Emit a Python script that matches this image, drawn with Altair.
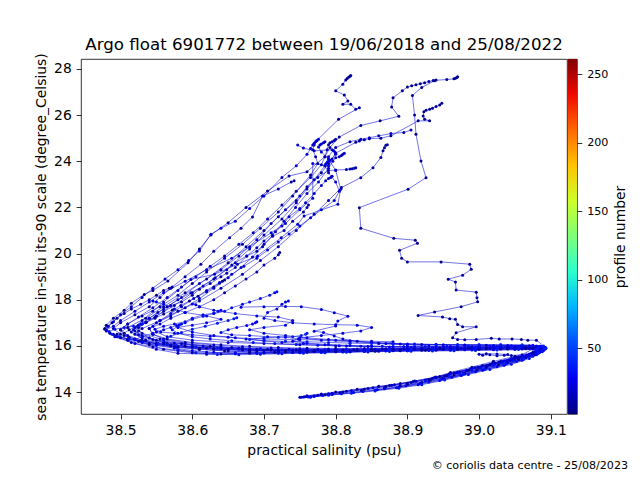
import altair as alt
import pandas as pd

# ---------------- data (salinity psu, temperature degC) per profile ----------------
P01 = [(38.970,27.66),(38.969,27.63),(38.967,27.60),(38.965,27.57),(38.955,27.54),(38.936,27.50),(38.930,27.45),(38.924,27.40),(38.918,27.36),(38.912,27.31),(38.906,27.27),(38.900,27.22),(38.893,27.05),(38.880,26.75),(38.878,26.35),(38.888,25.95),(38.862,25.75),(38.835,25.55),(38.805,25.05),(38.792,24.60),(38.785,24.20),(38.760,23.55),(38.735,23.36),(38.705,22.71),(38.675,22.00),(38.650,21.34),(38.626,20.81),(38.610,20.20),(38.594,19.60),(38.566,18.81),(38.545,18.40),(38.533,18.23),(38.515,17.85),(38.505,17.54),(38.490,17.20),(38.480,16.90),(38.478,16.75),(38.485,16.55),(38.500,16.35),(38.530,16.20),(38.570,16.00),(38.610,15.90),(38.650,15.84),(38.690,15.80),(38.730,15.80),(38.770,15.81),(38.810,15.82),(38.850,15.84),(38.890,15.86),(38.930,15.88),(38.970,15.90),(39.010,15.92),(39.050,15.93),(39.085,15.92),(39.090,15.85),(39.070,15.60),(39.045,15.40),(39.015,15.18),(38.985,14.95),(38.955,14.72),(38.930,14.55),(38.900,14.38),(38.870,14.24),(38.840,14.12),(38.810,14.00),(38.785,13.88),(38.765,13.80),(38.755,13.79)]
P02 = [(38.940,27.52),(38.938,27.49),(38.920,27.20),(38.907,26.85),(38.910,26.00),(38.912,25.17),(38.919,24.01),(38.926,23.29),(38.901,22.79),(38.833,21.99),(38.835,21.10),(38.881,20.66),(38.911,20.58),(38.914,20.45),(38.889,20.14),(38.892,19.80),(38.900,19.64),(38.947,19.64),(38.987,19.54),(38.989,19.32),(38.977,19.06),(38.957,18.89),(38.967,18.77),(38.968,18.42),(38.996,18.33),(38.997,18.09),(38.998,17.91),(38.975,17.70),(38.938,17.47),(38.915,17.32),(38.949,17.25),(38.959,17.18),(38.967,17.15),(38.970,16.93),(38.977,16.83),(38.996,16.83),(38.968,16.57),(38.963,16.35),(38.970,16.28),(38.980,16.27),(38.996,16.28),(39.017,16.33),(39.028,16.30),(39.046,16.30),(39.059,16.28),(39.068,16.25),(39.080,16.25),(39.093,15.92),(39.075,15.72),(39.050,15.55),(39.020,15.33),(38.990,15.08),(38.960,14.85),(38.940,14.65),(38.910,14.48),(38.890,14.37),(38.860,14.25),(38.830,14.12),(38.800,14.00),(38.780,13.92),(38.760,13.84)]
P03 = [(38.948,26.51),(38.945,26.44),(38.940,26.37),(38.935,26.30),(38.931,26.25),(38.926,26.21),(38.923,26.15),(38.922,25.96),(38.924,25.82),(38.931,25.75),(38.915,25.75),(38.877,25.10),(38.863,25.00),(38.847,24.98),(38.840,24.93),(38.833,24.88),(38.828,24.82),(38.800,24.35),(38.790,23.90),(38.780,23.50),(38.760,22.90),(38.745,22.30),(38.720,21.60),(38.700,21.00),(38.675,20.30),(38.650,19.60),(38.620,18.90),(38.590,18.30),(38.560,17.70),(38.535,17.20),(38.510,16.80),(38.495,16.50),(38.510,16.25),(38.540,16.05),(38.580,15.95),(38.630,15.86),(38.680,15.80),(38.730,15.76),(38.780,15.78),(38.830,15.80),(38.880,15.83),(38.930,15.86),(38.980,15.88),(39.030,15.90),(39.070,15.90),(39.088,15.82),(39.070,15.62),(39.050,15.48),(39.020,15.27),(38.990,15.03)]
P04 = [(38.821,27.72),(38.820,27.68),(38.818,27.64),(38.816,27.58),(38.814,27.52),(38.810,27.34),(38.800,27.05),(38.812,26.87),(38.817,26.61),(38.810,26.47),(38.821,26.47),(38.828,26.25),(38.833,26.32),(38.804,25.82),(38.773,24.88),(38.770,24.70),(38.768,24.50),(38.772,24.20),(38.775,23.90),(38.765,23.40),(38.740,22.50),(38.720,21.80),(38.695,21.10),(38.670,20.40),(38.645,19.80),(38.620,19.20),(38.600,18.70),(38.580,18.20),(38.555,17.70),(38.530,17.30),(38.510,16.95),(38.500,16.70),(38.505,16.45),(38.525,16.20),(38.560,15.85),(38.600,15.70),(38.640,15.65),(38.680,15.68),(38.720,15.71),(38.760,15.73),(38.800,15.75),(38.840,15.77),(38.880,15.79),(38.920,15.81),(38.960,15.83),(39.000,15.85),(39.040,15.87),(39.080,15.88),(39.085,15.75),(39.065,15.50),(39.040,15.28),(39.010,15.05),(38.980,14.80),(38.950,14.60),(38.920,14.42),(38.890,14.26)]
P05 = [(38.872,24.72),(38.870,24.69),(38.868,24.59),(38.866,24.45),(38.863,24.16),(38.852,23.72),(38.835,23.29),(38.808,22.86),(38.790,22.30),(38.770,21.70),(38.745,21.00),(38.720,20.30),(38.695,19.70),(38.670,19.10),(38.640,18.50),(38.610,17.95),(38.580,17.50),(38.555,17.10),(38.530,16.75),(38.520,16.50),(38.535,16.25),(38.570,16.05),(38.620,15.90),(38.670,15.82),(38.720,15.78),(38.770,15.77),(38.820,15.79),(38.870,15.82),(38.920,15.85),(38.970,15.87),(39.020,15.88),(39.060,15.90),(39.090,15.86),(39.075,15.65),(39.055,15.50),(39.030,15.32),(39.005,15.15)]
P06 = [(38.828,23.72),(38.826,23.70),(38.823,23.68),(38.820,23.66),(38.815,23.64),(38.800,23.62),(38.790,23.60),(38.775,23.30),(38.760,22.80),(38.745,22.20),(38.725,21.50),(38.700,20.80),(38.680,20.20),(38.655,19.50),(38.630,18.90),(38.600,18.30),(38.575,17.75),(38.550,17.30),(38.530,16.95),(38.525,16.65),(38.540,16.35),(38.565,16.10),(38.600,15.95),(38.650,15.86),(38.700,15.80),(38.750,15.78),(38.800,15.80),(38.850,15.82),(38.900,15.84),(38.950,15.86),(39.000,15.88),(39.040,15.89),(39.075,15.87),(39.060,15.62),(39.045,15.58),(39.035,15.60),(39.025,15.57),(39.015,15.62),(39.005,15.60),(39.000,15.64),(39.010,15.66),(39.025,15.65),(39.040,15.63)]
P07 = [(38.905,25.35),(38.895,25.25),(38.877,25.20),(38.860,25.10),(38.847,25.02),(38.835,24.95),(38.820,24.85),(38.800,24.60),(38.790,24.20),(38.785,23.80),(38.770,23.20),(38.750,22.50),(38.730,21.90),(38.710,21.30),(38.690,20.60),(38.665,19.90),(38.640,19.30),(38.610,18.70),(38.585,18.10),(38.560,17.60),(38.540,17.20),(38.525,16.90),(38.515,16.60),(38.530,16.35),(38.560,16.15),(38.600,16.02),(38.640,15.92),(38.680,15.86),(38.720,15.83),(38.760,15.82),(38.800,15.83),(38.840,15.85),(38.880,15.87),(38.920,15.89),(38.960,15.90),(39.000,15.91),(39.040,15.92),(39.075,15.93),(39.090,15.88),(39.072,15.66),(39.048,15.47),(39.018,15.24),(38.988,15.00),(38.958,14.78),(38.935,14.60),(38.905,14.42),(38.875,14.28),(38.845,14.16),(38.815,14.04),(38.790,13.93),(38.770,13.84),(38.757,13.80)]
P08 = [(38.785,24.85),(38.783,24.80),(38.780,24.75),(38.778,24.70),(38.776,24.62),(38.780,24.40),(38.790,24.10),(38.800,23.60),(38.807,22.79),(38.803,22.14),(38.756,21.63),(38.747,21.27),(38.724,20.69),(38.691,19.90),(38.663,19.54),(38.631,19.10),(38.598,18.88),(38.580,18.40),(38.560,17.90),(38.545,17.50),(38.530,17.10),(38.520,16.80),(38.530,16.55),(38.555,16.30),(38.590,16.10),(38.640,15.95),(38.690,15.86),(38.740,15.82),(38.790,15.82),(38.840,15.84),(38.890,15.86),(38.940,15.88),(38.990,15.90),(39.040,15.92),(39.080,15.92),(39.090,15.80),(39.068,15.58),(39.043,15.38),(39.012,15.16),(38.982,14.92),(38.952,14.70),(38.925,14.52)]
P09 = [(38.747,24.70),(38.755,24.57),(38.770,24.45),(38.795,24.50),(38.797,24.45),(38.799,24.40),(38.800,24.30),(38.795,24.10),(38.790,23.80),(38.768,23.90),(38.768,22.40),(38.750,21.90),(38.730,21.30),(38.710,20.90),(38.680,20.30),(38.655,19.80),(38.620,19.30),(38.590,18.80),(38.560,18.30),(38.540,17.90),(38.520,17.50),(38.500,17.10),(38.490,16.85),(38.480,16.70),(38.495,16.40),(38.520,16.10),(38.550,15.85),(38.580,15.68),(38.620,15.64),(38.660,15.66),(38.700,15.69),(38.740,15.71),(38.780,15.73),(38.820,15.75),(38.860,15.77),(38.900,15.79),(38.940,15.81),(38.980,15.83),(39.020,15.85),(39.060,15.87),(39.088,15.86),(39.078,15.70),(39.055,15.52),(39.028,15.30),(38.998,15.07),(38.968,14.84),(38.940,14.63),(38.912,14.47),(38.882,14.32),(38.852,14.19),(38.822,14.07),(38.795,13.95),(38.775,13.86),(38.760,13.81)]
P10 = [(38.742,23.15),(38.738,23.10),(38.720,22.80),(38.698,22.49),(38.684,21.59),(38.668,21.10),(38.652,20.69),(38.630,20.10),(38.612,19.54),(38.590,19.00),(38.570,18.50),(38.555,18.10),(38.540,17.70),(38.520,17.35),(38.500,17.00),(38.490,16.75),(38.500,16.50),(38.520,16.30),(38.550,16.10),(38.590,15.98),(38.630,15.90),(38.670,15.85),(38.710,15.82),(38.750,15.80),(38.790,15.80),(38.830,15.82),(38.870,15.84),(38.910,15.86),(38.950,15.88),(38.990,15.90),(39.030,15.91),(39.070,15.92),(39.090,15.84),(39.072,15.63),(39.050,15.46),(39.022,15.25)]
P11 = [(38.762,22.10),(38.760,22.00),(38.755,21.80),(38.740,21.40),(38.728,21.00),(38.712,20.75),(38.700,20.40),(38.690,20.10),(38.676,19.90),(38.660,19.40),(38.648,19.15),(38.640,19.00),(38.625,18.70),(38.610,18.45),(38.600,18.20),(38.585,17.90),(38.570,17.75),(38.560,17.50),(38.548,17.25),(38.535,17.00),(38.525,16.80),(38.520,16.65),(38.530,16.45),(38.550,16.25),(38.585,16.10),(38.625,15.98),(38.665,15.90),(38.705,15.85),(38.745,15.83),(38.785,15.83),(38.825,15.84),(38.865,15.86),(38.905,15.88),(38.945,15.90),(38.985,15.92),(39.025,15.93),(39.065,15.94),(39.088,15.90),(39.070,15.60),(39.045,15.42)]
P12 = [(38.722,20.05),(38.720,19.95),(38.715,19.80),(38.700,19.50),(38.690,19.20),(38.675,18.90),(38.660,18.60),(38.645,18.30),(38.630,18.00),(38.610,17.70),(38.590,17.45),(38.570,17.20),(38.555,16.95),(38.540,16.75),(38.545,16.50),(38.565,16.30),(38.600,16.15),(38.640,16.05),(38.680,15.98),(38.720,15.93),(38.760,15.90),(38.800,15.89),(38.840,15.89),(38.880,15.90),(38.920,15.91),(38.960,15.92),(39.000,15.93),(39.040,15.94),(39.080,15.95),(39.092,15.88),(39.076,15.68),(39.052,15.50)]
P13 = [(38.800,24.95),(38.798,24.90),(38.795,24.85),(38.792,24.80),(38.790,24.72),(38.788,24.50),(38.785,24.20),(38.780,23.85),(38.765,23.30),(38.745,22.70),(38.725,22.10),(38.705,21.50),(38.685,20.90),(38.665,20.40),(38.645,19.90),(38.625,19.45),(38.605,19.00),(38.585,18.55),(38.565,18.10),(38.545,17.65),(38.525,17.25),(38.510,16.95),(38.500,16.70),(38.510,16.45),(38.530,16.25),(38.560,16.08),(38.600,15.96),(38.640,15.88),(38.680,15.83),(38.720,15.80),(38.760,15.79),(38.800,15.79),(38.840,15.80),(38.880,15.82),(38.920,15.84),(38.960,15.86),(39.000,15.88),(39.040,15.90),(39.078,15.90),(39.088,15.78),(39.066,15.55),(39.040,15.34),(39.010,15.12)]
P14 = [(38.812,24.35),(38.810,24.30),(38.808,24.25),(38.805,24.20),(38.800,24.15),(38.796,24.00),(38.790,23.70),(38.776,23.10),(38.760,22.60),(38.744,22.00),(38.728,21.40),(38.712,20.80),(38.698,20.30),(38.684,19.85),(38.668,19.40),(38.650,18.95),(38.630,18.50),(38.610,18.05),(38.590,17.65),(38.570,17.30),(38.550,17.00),(38.540,16.75),(38.545,16.50),(38.560,16.30),(38.590,16.15),(38.630,16.04),(38.670,15.96),(38.710,15.91),(38.750,15.88),(38.790,15.87),(38.830,15.87),(38.870,15.88),(38.910,15.89),(38.950,15.90),(38.990,15.91),(39.030,15.92),(39.070,15.93),(39.091,15.87),(39.074,15.64),(39.050,15.46),(39.022,15.26),(38.994,15.06),(38.965,14.84),(38.938,14.64),(38.908,14.46),(38.878,14.30)]
P15 = [(38.795,23.35),(38.793,23.30),(38.790,23.25),(38.786,23.15),(38.780,22.95),(38.770,22.60),(38.758,22.20),(38.750,21.95),(38.735,21.60),(38.725,21.20),(38.716,20.95),(38.700,20.55),(38.690,20.25),(38.676,19.90),(38.660,19.60),(38.648,19.30),(38.632,18.95),(38.615,18.60),(38.598,18.30),(38.580,18.00),(38.565,17.70),(38.552,17.45),(38.540,17.20),(38.528,16.95),(38.518,16.70),(38.525,16.48),(38.545,16.28),(38.575,16.12),(38.615,16.00),(38.655,15.93),(38.695,15.88),(38.735,15.86),(38.775,15.85),(38.815,15.85),(38.855,15.86),(38.895,15.87),(38.935,15.88),(38.975,15.89),(39.015,15.90),(39.055,15.91),(39.087,15.89),(39.078,15.70),(39.056,15.52)]
P16 = [(38.776,24.95),(38.774,24.90),(38.772,24.84),(38.770,24.78),(38.768,24.70),(38.765,24.55),(38.760,24.30),(38.745,23.80),(38.725,23.30),(38.700,22.50),(38.680,21.95),(38.660,21.40),(38.640,21.10),(38.626,20.84),(38.610,20.11),(38.595,19.70),(38.580,19.30),(38.562,18.90),(38.545,18.50),(38.530,18.10),(38.515,17.70),(38.500,17.35),(38.490,17.05),(38.483,16.85),(38.480,16.65),(38.492,16.40),(38.515,16.15),(38.545,15.95),(38.580,15.80),(38.620,15.72),(38.660,15.70),(38.700,15.72),(38.740,15.74),(38.780,15.76),(38.820,15.78),(38.860,15.80),(38.900,15.82),(38.940,15.84),(38.980,15.86),(39.020,15.88),(39.060,15.89),(39.089,15.87),(39.082,15.72),(39.060,15.53),(39.033,15.32),(39.003,15.10),(38.973,14.88)]
P17 = [(38.792,24.05),(38.790,24.00),(38.788,23.95),(38.786,23.88),(38.785,23.80),(38.790,23.50),(38.800,23.10),(38.805,22.70),(38.798,22.30),(38.780,21.90),(38.765,21.55),(38.750,21.20),(38.735,20.85),(38.720,20.50),(38.705,20.15),(38.690,19.80),(38.672,19.45),(38.655,19.10),(38.638,18.75),(38.620,18.40),(38.602,18.05),(38.585,17.70),(38.570,17.40),(38.555,17.10),(38.545,16.85),(38.550,16.60),(38.565,16.40),(38.600,16.25),(38.650,16.15),(38.700,16.10),(38.750,16.05),(38.800,16.00),(38.850,15.98),(38.900,15.96),(38.950,15.95),(39.000,15.96),(39.040,15.98),(39.080,16.00),(39.092,15.92),(39.080,15.74),(39.060,15.54)]
P18 = [(38.734,17.95),(38.730,17.90),(38.725,17.80),(38.718,17.60),(38.705,17.45),(38.700,17.20),(38.715,17.10),(38.740,17.00),(38.770,16.95),(38.800,16.92),(38.830,16.90),(38.850,16.80),(38.835,16.65),(38.810,16.55),(38.780,16.45),(38.750,16.35),(38.780,16.25),(38.820,16.18),(38.860,16.12),(38.900,16.08),(38.940,16.05),(38.980,16.03),(39.020,16.02),(39.060,16.02),(39.088,15.97),(39.085,15.82),(39.066,15.60),(39.042,15.40)]
W1 = [(38.668,17.68),(38.700,17.70),(38.730,17.71),(38.752,17.70),(38.780,17.58),(38.798,17.44),(38.817,17.29),(38.803,17.08),(38.800,16.86),(38.770,16.64),(38.783,16.58),(38.798,16.43),(38.810,16.30),(38.830,16.20),(38.860,16.12),(38.890,16.08),(38.920,16.06),(38.950,16.05),(38.980,16.04),(39.010,16.03),(39.040,16.02),(39.070,16.01),(39.090,15.95),(39.080,15.75),(39.060,15.55),(39.035,15.36)]
W2 = [(38.600,17.82),(38.605,17.78),(38.610,17.70),(38.630,17.55),(38.660,17.40),(38.690,17.30),(38.720,17.25),(38.740,17.10),(38.730,16.90),(38.700,16.80),(38.680,16.70),(38.700,16.55),(38.730,16.45),(38.760,16.35),(38.790,16.28),(38.820,16.22),(38.850,16.15),(38.880,16.11),(38.910,16.08),(38.940,16.06),(38.970,16.04),(39.000,16.03),(39.030,16.02),(39.060,16.02),(39.085,15.98),(39.085,15.80),(39.065,15.58),(39.040,15.38)]
W3 = [(38.545,17.95),(38.550,17.90),(38.560,17.80),(38.575,17.60),(38.590,17.45),(38.620,17.30),(38.640,17.15),(38.620,17.00),(38.600,16.90),(38.580,16.80),(38.600,16.60),(38.630,16.45),(38.660,16.35),(38.700,16.30),(38.750,16.27),(38.800,16.25),(38.850,16.20),(38.880,16.18),(38.870,16.10),(38.900,16.05),(38.930,16.00),(38.960,15.97),(38.990,15.96),(39.020,15.96),(39.050,15.97),(39.080,15.96),(39.090,15.87),(39.070,15.64),(39.045,15.45),(39.018,15.22),(38.990,15.02),(38.960,14.80)]
W4 = [(38.572,18.55),(38.568,18.50),(38.560,18.40),(38.550,18.20),(38.540,18.00),(38.528,17.80),(38.515,17.60),(38.505,17.40),(38.495,17.20),(38.488,17.00),(38.482,16.85),(38.478,16.72),(38.490,16.50),(38.510,16.30),(38.540,16.10),(38.575,15.95),(38.610,15.85),(38.650,15.78),(38.690,15.74),(38.730,15.74),(38.770,15.76),(38.810,15.78),(38.850,15.80),(38.890,15.82),(38.930,15.84),(38.970,15.86),(39.010,15.88),(39.050,15.89),(39.086,15.88),(39.080,15.70),(39.058,15.52),(39.030,15.30),(39.000,15.08),(38.970,14.86),(38.945,14.68)]
W5 = [(38.640,17.55),(38.636,17.50),(38.630,17.42),(38.615,17.35),(38.600,17.20),(38.590,17.05),(38.575,16.95),(38.560,16.85),(38.548,16.72),(38.556,16.60),(38.575,16.55),(38.600,16.48),(38.625,16.42),(38.650,16.38),(38.675,16.30),(38.700,16.22),(38.725,16.15),(38.755,16.10),(38.785,16.05),(38.815,16.00),(38.845,15.97),(38.875,15.95),(38.905,15.93),(38.935,15.92),(38.965,15.92),(38.995,15.93),(39.025,15.95),(39.055,15.97),(39.082,15.96),(39.093,15.90),(39.080,15.62),(39.060,15.38),(39.035,15.16),(39.005,14.95),(38.975,14.72),(38.945,14.50),(38.915,14.32),(38.885,14.19),(38.855,14.08),(38.825,13.98),(38.795,13.89),(38.770,13.81),(38.752,13.78)]
W6 = [(38.690,17.05),(38.688,17.00),(38.684,16.95),(38.676,16.88),(38.662,16.80),(38.650,16.70),(38.640,16.58),(38.655,16.48),(38.680,16.45),(38.705,16.40),(38.730,16.38),(38.748,16.30),(38.740,16.20),(38.760,16.12),(38.790,16.06),(38.820,16.02),(38.850,15.99),(38.880,15.97),(38.910,15.96),(38.940,15.95),(38.970,15.95),(39.000,15.96),(39.030,15.97),(39.060,15.99),(39.085,15.99),(39.092,15.93),(39.084,15.70),(39.062,15.45),(39.038,15.24),(39.008,15.02),(38.978,14.80),(38.948,14.58),(38.918,14.38),(38.888,14.22),(38.858,14.10)]
W7 = [(38.585,16.95),(38.582,16.92),(38.578,16.88),(38.570,16.80),(38.560,16.70),(38.545,16.55),(38.530,16.40),(38.520,16.28),(38.530,16.15),(38.550,16.02),(38.575,15.90),(38.600,15.80),(38.630,15.72),(38.660,15.68),(38.690,15.67),(38.720,15.68),(38.750,15.70),(38.780,15.72),(38.810,15.74),(38.840,15.76),(38.870,15.78),(38.900,15.79),(38.930,15.80),(38.960,15.81),(38.990,15.82),(39.020,15.83),(39.050,15.84),(39.078,15.84),(39.088,15.78),(39.075,15.55),(39.052,15.32),(39.025,15.10),(38.995,14.88),(38.962,14.64),(38.930,14.44),(38.898,14.27),(38.868,14.14),(38.838,14.03),(38.808,13.93),(38.782,13.85),(38.762,13.79)]
W8 = [(38.718,18.35),(38.715,18.30),(38.708,18.20),(38.695,18.05),(38.680,17.90),(38.670,17.80),(38.655,17.65),(38.645,17.50),(38.630,17.40),(38.615,17.28),(38.600,17.15),(38.590,17.00),(38.580,16.85),(38.572,16.70),(38.580,16.55),(38.600,16.40),(38.625,16.30),(38.655,16.22),(38.685,16.15),(38.715,16.10),(38.745,16.06),(38.775,16.03),(38.805,16.01),(38.835,15.99),(38.865,15.98),(38.895,15.97),(38.925,15.97),(38.955,15.98),(38.985,15.99),(39.015,16.00),(39.045,16.01),(39.075,16.03),(39.090,15.96),(39.083,15.72),(39.060,15.48),(39.032,15.26),(39.002,15.04),(38.972,14.82)]
W9 = [(38.645,18.85),(38.642,18.80),(38.638,18.72),(38.630,18.55),(38.620,18.35),(38.608,18.15),(38.596,17.95),(38.584,17.75),(38.572,17.55),(38.560,17.38),(38.548,17.20),(38.536,17.02),(38.524,16.86),(38.512,16.70),(38.505,16.55),(38.512,16.38),(38.528,16.22),(38.550,16.08),(38.578,15.96),(38.610,15.86),(38.645,15.78),(38.680,15.74),(38.715,15.72),(38.750,15.72),(38.785,15.73),(38.820,15.75),(38.855,15.77),(38.890,15.79),(38.925,15.81),(38.960,15.83),(38.995,15.85),(39.030,15.87),(39.065,15.88),(39.090,15.87),(39.078,15.62),(39.055,15.40),(39.027,15.18),(38.997,14.96),(38.965,14.74),(38.932,14.52),(38.900,14.33),(38.868,14.19),(38.836,14.07),(38.806,13.97),(38.780,13.88),(38.760,13.81),(38.750,13.78)]
W10 = [(38.530,16.95),(38.525,16.90),(38.518,16.85),(38.505,16.80),(38.492,16.72),(38.484,16.62),(38.488,16.50),(38.498,16.40),(38.512,16.30),(38.530,16.20),(38.552,16.10),(38.578,16.02),(38.605,15.95),(38.635,15.90),(38.665,15.86),(38.695,15.84),(38.725,15.83),(38.755,15.83),(38.785,15.84),(38.815,15.85),(38.845,15.86),(38.875,15.87),(38.905,15.88),(38.935,15.89),(38.965,15.90),(38.995,15.91),(39.025,15.92),(39.055,15.93),(39.083,15.93),(39.091,15.85),(39.072,15.58),(39.048,15.36),(39.020,15.15),(38.990,14.93),(38.958,14.70),(38.925,14.48)]
W11 = [(38.662,17.22),(38.658,17.18),(38.650,17.10),(38.635,16.98),(38.618,16.85),(38.600,16.72),(38.585,16.58),(38.570,16.42),(38.560,16.25),(38.565,16.05),(38.580,15.85),(38.605,15.70),(38.635,15.63),(38.665,15.62),(38.695,15.64),(38.725,15.66),(38.755,15.68),(38.785,15.70),(38.815,15.72),(38.845,15.74),(38.875,15.76),(38.905,15.77),(38.935,15.78),(38.965,15.79),(38.995,15.80),(39.025,15.82),(39.055,15.84),(39.080,15.85),(39.088,15.75),(39.070,15.45),(39.045,15.20),(39.015,14.98),(38.985,14.76),(38.952,14.52),(38.920,14.32),(38.888,14.17),(38.855,14.05),(38.822,13.95),(38.790,13.86),(38.765,13.78)]
W12 = [(38.760,16.55),(38.758,16.50),(38.752,16.45),(38.740,16.40),(38.720,16.38),(38.700,16.35),(38.680,16.28),(38.700,16.22),(38.730,16.20),(38.760,16.18),(38.790,16.15),(38.820,16.12),(38.850,16.10),(38.880,16.08),(38.910,16.07),(38.940,16.06),(38.970,16.06),(39.000,16.06),(39.030,16.06),(39.060,16.05),(39.090,16.00),(39.093,15.88),(39.082,15.66),(39.062,15.42),(39.036,15.20),(39.008,14.98),(38.978,14.76),(38.946,14.54)]

# profile number -> profile
PROFILES = {4: W9, 5: W4, 6: P01, 7: P02, 8: P03, 9: P10, 10: P04, 11: P11, 12: P05,
            13: P12, 14: P06, 15: P13, 16: P07, 17: P14, 18: P08, 19: P15, 20: P09,
            21: P16, 22: P17, 23: W1, 24: P18, 25: W2, 26: W3, 27: W5, 28: W6,
            29: W7, 30: W8, 31: W10, 32: W11, 33: W12}

X_TICKS = [38.5, 38.6, 38.7, 38.8, 38.9, 39.0, 39.1]
Y_TICKS = [14, 16, 18, 20, 22, 24, 26, 28]
CB_TICKS = [50, 100, 150, 200, 250]
TITLE = "Argo float 6901772 between 19/06/2018 and 25/08/2022"
FOOTER = "\u00a9 coriolis data centre - 25/08/2023"

rows = []
for pn, pts in PROFILES.items():
    for i, (s, t) in enumerate(pts):
        rows.append({"profile": pn, "idx": i, "psal": s, "temp": t})
df = pd.DataFrame(rows)

# ---------------- styling ----------------
FONT = "DejaVu Sans"
S_MIN, S_MAX = 38.4448, 39.1226
T_MIN, T_MAX = 13.05, 28.43
CB_MIN, CB_MAX = 2, 261
W, H = 486, 355
JET = ['#000080', '#0000f1', '#004dff', '#00b3ff', '#29ffce', '#7dff7a',
       '#ceff29', '#ffc400', '#ff6800', '#f10800', '#800000']
jet_domain = [CB_MIN + k * (CB_MAX - CB_MIN) / 10 for k in range(11)]

xs = alt.Scale(domain=[S_MIN, S_MAX], nice=False, zero=False)
ys = alt.Scale(domain=[T_MIN, T_MAX], nice=False, zero=False)
cs = alt.Scale(type="linear", domain=jet_domain, range=JET)

xenc = alt.X("psal:Q", scale=xs, axis=alt.Axis(values=X_TICKS, format=".1f",
                                                title="practical salinity (psu)"))
yenc = alt.Y("temp:Q", scale=ys, axis=alt.Axis(values=Y_TICKS, format="d",
                                                title="sea temperature in-situ its-90 scale (degree_Celsius)"))

base = alt.Chart(df)
lines = base.mark_line(color="#1414dc", strokeWidth=0.7, opacity=0.85).encode(
    x=xenc, y=yenc, detail="profile:N", order="idx:Q")
points = base.mark_circle(size=9, opacity=1).encode(
    x="psal:Q", y="temp:Q",
    color=alt.Color("profile:Q", scale=cs, legend=None))

texts = pd.DataFrame({"txt": [TITLE, FOOTER]})
title_mark = alt.Chart(texts).transform_filter(alt.datum.txt == TITLE).mark_text(
    align="center", baseline="middle", fontSize=16.67, font=FONT, color="black"
).encode(text="txt:N", x=alt.value(W / 2), y=alt.value(-14))
footer_mark = alt.Chart(texts).transform_filter(alt.datum.txt == FOOTER).mark_text(
    align="right", baseline="middle", fontSize=11.1, font=FONT, color="black"
).encode(text="txt:N", x=alt.value(547), y=alt.value(407))

main = alt.layer(lines, points, title_mark, footer_mark).properties(width=W, height=H)

cb_df = pd.DataFrame({"lo": [CB_MIN], "hi": [CB_MAX]})
grad = alt.Gradient(gradient="linear",
                    stops=[alt.GradientStop(color=c, offset=k / 10) for k, c in enumerate(JET)],
                    x1=0, x2=0, y1=1, y2=0)
cbar = alt.Chart(cb_df).mark_rect(fill=grad).encode(
    y=alt.Y("lo:Q", scale=alt.Scale(domain=[CB_MIN, CB_MAX], nice=False, zero=False),
            axis=alt.Axis(orient="right", values=CB_TICKS, format="d", labelFontSize=11.1,
                          title="profile number", titleAngle=270, titleBaseline="top")),
    y2="hi:Q",
    x=alt.value(0), x2=alt.value(9),
).properties(width=9, height=H)

chart = alt.hconcat(main, cbar, spacing=1, bounds="flush").properties(
    padding={"left": 25, "top": 28, "right": 0, "bottom": 0}
).configure(font=FONT).configure_view(
    stroke="black", strokeWidth=0.8
).configure_axis(
    grid=False, domain=False, tickColor="black", tickSize=4.86, tickWidth=0.8,
    labelColor="black", labelFont=FONT, labelFontSize=13.9, labelPadding=4.86,
    labelFlush=False, titleFont=FONT, titleFontSize=13.9, titleFontWeight="normal",
    titleColor="black", titlePadding=5.56
)

chart.save("out.html", embed_options={"renderer": "svg", "actions": False})
